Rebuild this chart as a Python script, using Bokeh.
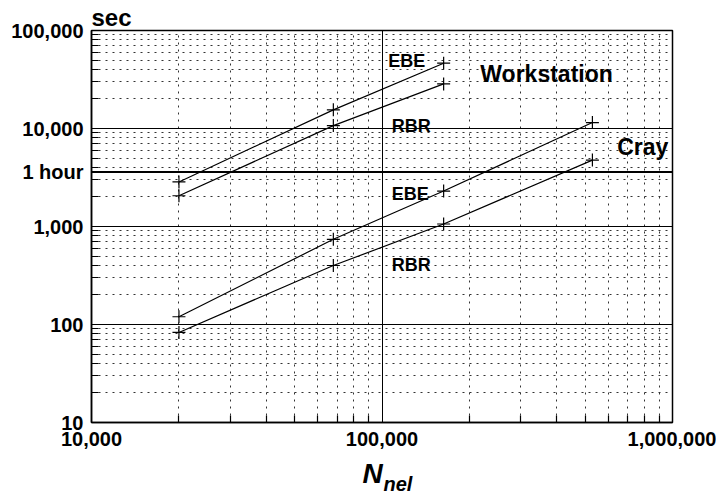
from bokeh.plotting import figure
from bokeh.models import FixedTicker, NumeralTickFormatter, Span, Label, Title
from bokeh.embed import file_html
from bokeh.resources import INLINE

# ---- data ----
ws_x = [20000, 68000, 163000]
ws_ebe = [2850, 15500, 46400]
ws_rbr = [2060, 10700, 28500]

cray_x = [20000, 68000, 163000, 530000]
cray_ebe = [120, 740, 2300, 11500]
cray_rbr = [83, 400, 1060, 4760]

hour_sec = 3600

y_tick_values = [10, 100, 1000, 3600, 10000, 100000]
y_tick_labels = ["10", "100", "1,000", "1 hour", "10,000", "100,000"]
x_tick_values = [10000, 100000, 1000000]
x_tick_labels = ["10,000", "100,000", "1,000,000"]

y_decades = [10, 100, 1000, 10000, 100000]
x_decades = [10000, 100000, 1000000]
multipliers = [2, 3, 4, 5, 6, 7, 8, 9]
y_minor = [m * d for d in y_decades[:-1] for m in multipliers]
x_minor = [m * d for d in x_decades[:-1] for m in multipliers]

# text annotations: (text, x, y)
series_labels = [
    ("EBE", 105000, 48600),
    ("RBR", 108000, 10700),
    ("EBE", 108000, 2150),
    ("RBR", 108000, 400),
]
group_labels = [
    ("Workstation", 218000, 36000),
    ("Cray", 645000, 6400),
]

FONT = "Liberation Sans"

p = figure(
    x_axis_type="log", y_axis_type="log",
    x_range=(1e4, 1e6), y_range=(10, 1e5),
    frame_width=581, frame_height=392,
    min_border_left=91, min_border_right=44,
    min_border_top=30, min_border_bottom=73,
    output_backend="svg", toolbar_location=None,
    background_fill_color="white", border_fill_color="white",
)
p.outline_line_color = "black"
p.outline_line_width = 1.5

# y-axis title "sec" (top-left)
p.title.text = "sec"
p.title.align = "left"
p.title.text_font = FONT
p.title.text_font_style = "bold"
p.title.text_font_size = "24px"
p.title.text_color = "black"
p.title.standoff = 0

# axes
p.yaxis.ticker = FixedTicker(ticks=y_tick_values, minor_ticks=y_minor)
p.xaxis.ticker = FixedTicker(ticks=x_tick_values, minor_ticks=x_minor)
p.yaxis.formatter = NumeralTickFormatter(format="0,0")
p.xaxis.formatter = NumeralTickFormatter(format="0,0")
p.yaxis.major_label_overrides = dict(zip(y_tick_values, y_tick_labels))
p.xaxis.major_label_overrides = dict(zip(x_tick_values, x_tick_labels))
for ax in (p.xaxis, p.yaxis):
    ax.major_label_text_font = FONT
    ax.major_label_text_font_style = "bold"
    ax.major_label_text_font_size = "20px"
    ax.major_label_text_color = "black"
    ax.major_tick_in = 0
    ax.major_tick_out = 0
    ax.minor_tick_in = 7
    ax.minor_tick_out = 0
    ax.minor_tick_line_color = "black"
    ax.minor_tick_line_width = 1.2
    ax.axis_line_color = "black"
    ax.axis_line_width = 1.5
p.yaxis.major_label_standoff = 8
p.xaxis.major_label_standoff = 9

# grids
p.ygrid.ticker = FixedTicker(ticks=y_decades, minor_ticks=y_minor)
p.xgrid.ticker = FixedTicker(ticks=x_decades, minor_ticks=x_minor)
for g in (p.xgrid, p.ygrid):
    g.grid_line_color = "black"
    g.grid_line_width = 1
    g.grid_line_alpha = 1
    g.minor_grid_line_color = "#333333"
    g.minor_grid_line_width = 1
    g.minor_grid_line_dash = "2 5"

p.add_layout(Span(location=hour_sec, dimension="width",
                  line_color="black", line_width=2.2))

# series
for xs, ys in ((ws_x, ws_ebe), (ws_x, ws_rbr), (cray_x, cray_ebe), (cray_x, cray_rbr)):
    p.line(xs, ys, line_color="black", line_width=1.2)
    p.scatter(xs, ys, marker="cross", size=13, line_color="black", line_width=1.2)

for txt, x, y in series_labels:
    p.add_layout(Label(x=x, y=y, text=txt, text_font=FONT, text_font_style="bold",
                       text_font_size="18px", text_color="black",
                       text_baseline="alphabetic", text_align="left"))
for txt, x, y in group_labels:
    p.add_layout(Label(x=x, y=y, text=txt, text_font=FONT, text_font_style="bold",
                       text_font_size="23px", text_color="black",
                       text_baseline="alphabetic", text_align="left"))

# x-axis title N_nel (two stacked titles below)
p.add_layout(Title(text="N", align="left", offset=271, standoff=14,
                   text_font=FONT, text_font_style="bold italic",
                   text_font_size="28px", text_color="black"), "below")
p.add_layout(Title(text="nel", align="left", offset=292, standoff=-46,
                   vertical_align="top",
                   text_font=FONT, text_font_style="bold italic",
                   text_font_size="20px", text_color="black"), "below")

open("out.html", "w").write(file_html(p, INLINE))
